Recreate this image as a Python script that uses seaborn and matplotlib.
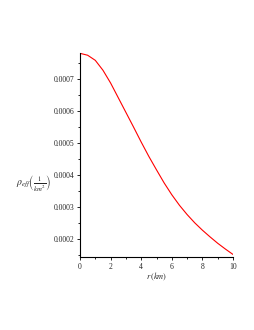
import matplotlib
matplotlib.use("Agg")
import matplotlib.pyplot as plt
import seaborn as sns
import pandas as pd
from matplotlib.ticker import MultipleLocator, FormatStrFormatter

r_km = [0, 0.5, 1, 1.5, 2, 2.5, 3, 3.5, 4, 4.5, 5, 5.5, 6, 6.5, 7, 7.5, 8, 8.5, 9, 9.5, 10]
rho_eff = [0.000781, 0.000775, 0.000759, 0.000728, 0.000688, 0.000642, 0.000596,
           0.000550, 0.000503, 0.000458, 0.000416, 0.000375, 0.000338, 0.000305,
           0.000276, 0.000250, 0.000227, 0.000206, 0.000186, 0.000168, 0.000151]
y_ticks = [0.0002, 0.0003, 0.0004, 0.0005, 0.0006, 0.0007]
x_ticks = [0, 2, 4, 6, 8, 10]

sns.set_style("ticks")
plt.rcParams['font.family'] = ['Liberation Serif', 'DejaVu Serif']
plt.rcParams['mathtext.fontset'] = 'stix'

df = pd.DataFrame({"r": r_km, "rho": rho_eff})

fig = plt.figure(figsize=(2.55, 3.3), dpi=100)
ax = fig.add_axes([80/255, 73/330, 153/255, 204/330])
sns.lineplot(data=df, x="r", y="rho", color="red", linewidth=0.8, ax=ax)

ax.set_xlim(0, 10)
ax.set_ylim(0.000143, 0.000782)
ax.set_xticks(x_ticks)
ax.set_yticks(y_ticks)
ax.xaxis.set_minor_locator(MultipleLocator(1))
ax.yaxis.set_minor_locator(MultipleLocator(0.00005))
ax.yaxis.set_major_formatter(FormatStrFormatter('%.4f'))
ax.tick_params(axis='both', which='major', labelsize=5.5, length=2.5, width=0.6, pad=1.5, color='black')
ax.tick_params(axis='both', which='minor', length=1.5, width=0.6, color='black')
for s in ['top', 'right']:
    ax.spines[s].set_visible(False)
for s in ['left', 'bottom']:
    ax.spines[s].set_linewidth(0.8)
    ax.spines[s].set_color('black')

ax.set_xlabel(r'$r\,(km)$', fontsize=6, labelpad=0)
ax.set_ylabel('')
fig.text(0.13, (330-183)/330, r'$\rho_{eff}\left(\frac{1}{km^2}\right)$', fontsize=7,
         ha='center', va='center')

fig.savefig("out.png", dpi=100)
